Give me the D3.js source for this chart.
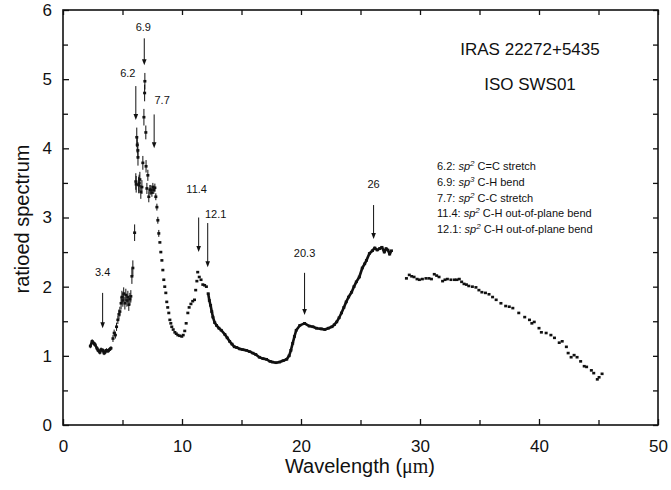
<!DOCTYPE html>
<html>
<head>
<meta charset="utf-8">
<script src="https://cdn.jsdelivr.net/npm/d3@7"></script>
<style>
  body { margin: 0; background: #fff; }
  svg { display: block; font-family: "Liberation Sans", Arial, sans-serif; }
  .axis text { font-size: 17px; fill: #111; }
  .axis path, .axis line { stroke: #111; stroke-width: 1.3; }
  .note { font-size: 11px; fill: #111; }
  .legend { font-size: 11px; fill: #111; }
</style>
</head>
<body>
<svg width="671" height="490"></svg>
<script>
// DATA (wavelength in micron, ratioed spectrum)
// 2.4 - 4.2 : noisy continuous band
const bandA = [
  [2.3, 1.14], [2.45, 1.21], [2.6, 1.18], [2.7, 1.16], [2.85, 1.11], [2.95, 1.08],
  [3.1, 1.05], [3.2, 1.09], [3.36, 1.08], [3.45, 1.04], [3.52, 1.05], [3.65, 1.08],
  [3.78, 1.07], [3.9, 1.09], [4.03, 1.11]
]
const errA = [0.03, 0.03, 0.03, 0.03, 0.03, 0.03, 0.03, 0.03, 0.03, 0.03, 0.03, 0.03, 0.03, 0.03, 0.03]

// 4.2 - 6.0 : points with error bars
const bandB = [
  [4.2, 1.25], [4.3, 1.33], [4.4, 1.3], [4.5, 1.42], [4.61, 1.52], [4.7, 1.6],
  [4.78, 1.64], [4.88, 1.76], [4.95, 1.85], [5.03, 1.8], [5.1, 1.9], [5.2, 1.76],
  [5.28, 1.88], [5.37, 1.8], [5.45, 1.85], [5.53, 1.74], [5.62, 1.82], [5.7, 1.86],
  [5.79, 2.15], [5.87, 2.27], [6.02, 2.78]
]
const errB = [0.05, 0.05, 0.05, 0.06, 0.06, 0.07, 0.07, 0.09, 0.09, 0.09, 0.09, 0.09,
  0.09, 0.09, 0.09, 0.09, 0.09, 0.09, 0.11, 0.11, 0.12]

// 6.1 - 8.1 : PAH peaks, large error bars
const bandC = [
  [6.12, 3.52], [6.15, 3.48], [6.2, 4.16], [6.24, 4.05], [6.29, 3.97], [6.3, 3.87],
  [6.36, 3.47], [6.4, 3.5], [6.46, 3.55], [6.54, 3.37], [6.63, 3.44], [6.71, 3.79],
  [6.8, 4.45], [6.86, 4.8], [6.88, 4.97], [6.96, 4.23], [6.98, 3.74], [7.05, 3.42],
  [7.13, 3.61], [7.21, 3.3], [7.3, 3.4], [7.38, 3.4], [7.47, 3.36], [7.55, 3.44],
  [7.63, 3.4], [7.72, 3.43], [7.8, 3.3], [7.89, 3.15], [7.97, 2.96], [8.05, 2.77]
]
const errC = [0.12, 0.12, 0.14, 0.12, 0.12, 0.12, 0.12, 0.12, 0.11, 0.1, 0.1, 0.1,
  0.12, 0.12, 0.12, 0.1, 0.09, 0.08, 0.08, 0.08, 0.07, 0.07, 0.06, 0.06,
  0.06, 0.06, 0.05, 0.05, 0.05, 0.05]

// 8.1 - 12.1 : dotted silicate / 11.3 region
const bandD = [
  [8.14, 2.64], [8.22, 2.5], [8.31, 2.38], [8.39, 2.24], [8.47, 2.1], [8.55, 2.0],
  [8.64, 1.91], [8.72, 1.78], [8.8, 1.7], [8.89, 1.62], [8.98, 1.52], [9.06, 1.47],
  [9.14, 1.42], [9.26, 1.38], [9.4, 1.34], [9.52, 1.32], [9.65, 1.3], [9.8, 1.29],
  [9.98, 1.28], [10.1, 1.3], [10.23, 1.36], [10.35, 1.47], [10.49, 1.62], [10.6, 1.7],
  [10.75, 1.75], [10.9, 1.79], [11.05, 1.81], [11.15, 1.95], [11.25, 2.08], [11.32, 2.21],
  [11.45, 2.14], [11.6, 2.1], [11.75, 2.03], [11.9, 2.02], [12.05, 2.0]
]

// 12.2 - 27.6 : dense continuous band
const bandE = [
  [12.2, 1.9], [12.3, 1.8], [12.4, 1.73], [12.5, 1.64], [12.6, 1.56], [12.75, 1.48],
  [12.9, 1.44], [13.1, 1.4], [13.3, 1.37], [13.6, 1.31], [13.8, 1.26], [14.0, 1.21],
  [14.2, 1.17], [14.4, 1.13], [14.6, 1.12], [14.85, 1.1], [15.1, 1.09], [15.4, 1.08],
  [15.7, 1.06], [15.95, 1.04], [16.2, 1.02], [16.5, 0.98], [16.8, 0.96], [17.1, 0.95],
  [17.4, 0.92], [17.6, 0.91], [17.9, 0.9], [18.2, 0.91], [18.5, 0.93], [18.8, 0.95],
  [19.0, 1.0], [19.15, 1.08], [19.3, 1.18], [19.45, 1.28], [19.6, 1.37], [19.9, 1.44],
  [20.3, 1.47], [20.7, 1.43], [21.0, 1.42], [21.3, 1.4], [21.7, 1.39], [22.0, 1.38],
  [22.3, 1.4], [22.6, 1.42], [22.8, 1.45], [23.0, 1.49], [23.2, 1.55], [23.4, 1.62],
  [23.6, 1.7], [23.8, 1.78], [24.0, 1.85], [24.25, 1.92], [24.45, 2.0], [24.65, 2.07],
  [24.9, 2.14], [25.15, 2.27], [25.35, 2.33], [25.5, 2.38], [25.75, 2.48], [26.0, 2.52],
  [26.2, 2.56], [26.4, 2.53], [26.6, 2.55], [26.8, 2.57], [27.0, 2.5], [27.15, 2.55],
  [27.3, 2.53], [27.45, 2.47], [27.6, 2.52]
]

// 28.8 - 45.3 : long wavelength dots
const bandF = [
  [28.86, 2.12], [29.1, 2.17], [29.3, 2.15], [29.5, 2.14], [29.75, 2.11], [29.95, 2.1],
  [30.2, 2.11], [30.5, 2.12], [30.75, 2.12], [30.96, 2.11], [31.2, 2.18], [31.4, 2.16],
  [31.6, 2.14], [31.9, 2.08], [32.1, 2.1], [32.3, 2.11], [32.6, 2.1], [32.9, 2.1],
  [33.1, 2.1], [33.3, 2.11], [33.5, 2.07], [33.7, 2.04], [33.9, 2.03], [34.1, 2.01],
  [34.4, 2.0], [34.7, 1.99], [34.95, 1.95], [35.2, 1.92], [35.5, 1.91], [35.8, 1.89],
  [36.1, 1.85], [36.4, 1.81], [36.8, 1.76], [37.2, 1.72], [37.5, 1.71], [37.8, 1.69],
  [38.3, 1.62], [38.8, 1.56], [39.2, 1.52], [39.4, 1.47], [39.6, 1.49], [40.0, 1.4],
  [40.2, 1.34], [40.6, 1.33], [41.0, 1.3], [41.3, 1.26], [41.7, 1.19], [41.95, 1.21],
  [42.3, 1.13], [42.45, 1.04], [42.7, 0.98], [42.95, 1.01], [43.2, 0.98], [43.5, 0.92],
  [43.8, 0.85], [44.0, 0.84], [44.4, 0.79], [44.6, 0.75], [44.9, 0.66], [45.05, 0.69],
  [45.3, 0.74]
]

// feature arrows: label, wavelength, arrow top, arrow tip, label baseline (data units)
const features = ["3.4", "6.2", "6.9", "7.7", "11.4", "12.1", "20.3", "26"]
const featureX = [3.33, 6.12, 6.83, 7.66, 11.4, 12.16, 20.3, 26.1]
const featureTop = [1.91, 4.9, 5.59, 4.49, 3.0, 2.92, 2.2, 3.18]
const featureTip = [1.4, 4.41, 5.2, 4.0, 2.5, 2.28, 1.59, 2.69]
const featureLabelY = [2.15, 5.03, 5.69, 4.64, 3.35, 3.0, 2.43, 3.42]
const featureDx = [0, -8, -1, 8, -2, 8, 0, 0]

const legendKeys = ["6.2:", "6.9:", "7.7:", "11.4:", "12.1:"]
const legendSup = ["2", "3", "2", "2", "2"]
const legendText = ["C=C stretch", "C-H bend", "C-C stretch", "C-H out-of-plane bend", "C-H out-of-plane bend"]

const xTicks = [0, 10, 20, 30, 40, 50]
const xMinor = [5, 15, 25, 35, 45]
const yTicks = [0, 1, 2, 3, 4, 5, 6]
const yMinor = [0.5, 1.5, 2.5, 3.5, 4.5, 5.5]

// SETUP
const svg = d3.select("svg")
const plotLeft = 63, plotRight = 658, plotTop = 10, plotBottom = 425

const x = d3.scaleLinear().domain([0, 50]).range([plotLeft, plotRight])
const y = d3.scaleLinear().domain([0, 6]).range([plotBottom, plotTop])

// axes, ticks inward on all four sides
svg.append("g").attr("class", "axis")
  .attr("transform", `translate(0, ${plotBottom})`)
  .call(d3.axisBottom(x).tickValues(xTicks).tickSizeInner(-6).tickSizeOuter(0).tickPadding(15).tickFormat(d3.format("d")))
svg.append("g").attr("class", "axis")
  .attr("transform", `translate(0, ${plotBottom})`)
  .call(d3.axisBottom(x).tickValues(xMinor).tickSizeInner(-5).tickSizeOuter(0).tickFormat(""))
svg.append("g").attr("class", "axis")
  .attr("transform", `translate(0, ${plotTop})`)
  .call(d3.axisTop(x).tickValues(xTicks.concat(xMinor)).tickSizeInner(-5).tickSizeOuter(0).tickFormat(""))

svg.append("g").attr("class", "axis")
  .attr("transform", `translate(${plotLeft}, 0)`)
  .call(d3.axisLeft(y).tickValues(yTicks).tickSizeInner(-6).tickSizeOuter(0).tickPadding(11).tickFormat(d3.format("d")))
svg.append("g").attr("class", "axis")
  .attr("transform", `translate(${plotLeft}, 0)`)
  .call(d3.axisLeft(y).tickValues(yMinor).tickSizeInner(-5).tickSizeOuter(0).tickFormat(""))
svg.append("g").attr("class", "axis")
  .attr("transform", `translate(${plotRight}, 0)`)
  .call(d3.axisRight(y).tickValues(yTicks.concat(yMinor)).tickSizeInner(-5).tickSizeOuter(0).tickFormat(""))

svg.selectAll(".axis path").remove()

svg.append("rect")
  .attr("x", plotLeft).attr("y", plotTop)
  .attr("width", plotRight - plotLeft).attr("height", plotBottom - plotTop)
  .attr("fill", "none").attr("stroke", "#111").attr("stroke-width", 1.6)

// axis titles
const xTitle = svg.append("text")
  .attr("x", 360).attr("y", 473)
  .attr("text-anchor", "middle")
  .style("font-size", "20px").attr("fill", "#111")
xTitle.append("tspan").text("Wavelength (")
xTitle.append("tspan").style("font-family", "'Liberation Serif', 'DejaVu Serif', serif").text("\u03bcm")
xTitle.append("tspan").text(")")

svg.append("text")
  .attr("transform", "translate(29, 219) rotate(-90)")
  .attr("text-anchor", "middle")
  .style("font-size", "20px").attr("fill", "#111")
  .text("ratioed spectrum")

// DATA MARKS
const line = d3.line().x(d => x(d[0])).y(d => y(d[1]))

// dense bands drawn as thick noisy traces
;[bandA, bandE].forEach(band => {
  svg.append("path")
    .datum(band)
    .attr("d", line)
    .attr("fill", "none")
    .attr("stroke", "#111")
    .attr("stroke-width", 2.6)
    .attr("stroke-linejoin", "round")
})

const pts = bandA.concat(bandB, bandC, bandD, bandE, bandF)
const errs = errA.concat(errB, errC)

// error bars
svg.append("g")
  .selectAll("line")
  .data(bandA.concat(bandB, bandC))
  .join("line")
  .attr("x1", d => x(d[0])).attr("x2", d => x(d[0]))
  .attr("y1", (d, i) => y(d[1] + errs[i]))
  .attr("y2", (d, i) => y(d[1] - errs[i]))
  .attr("stroke", "#111").attr("stroke-width", 1)

// points
svg.append("g")
  .selectAll("rect")
  .data(pts)
  .join("rect")
  .attr("x", d => x(d[0]) - 1.5)
  .attr("y", d => y(d[1]) - 1.3)
  .attr("width", 3)
  .attr("height", 2.6)
  .attr("fill", "#111")

// feature arrows
const arrows = svg.append("g")
features.forEach((f, i) => {
  const ax = x(featureX[i])
  const y0 = y(featureTop[i])
  const y1 = y(featureTip[i])
  arrows.append("line")
    .attr("x1", ax).attr("x2", ax)
    .attr("y1", y0).attr("y2", y1 - 5)
    .attr("stroke", "#111").attr("stroke-width", 1)
  arrows.append("path")
    .attr("d", `M${ax - 2.3},${y1 - 6} L${ax + 2.3},${y1 - 6} L${ax},${y1} Z`)
    .attr("fill", "#111")
  arrows.append("text")
    .attr("class", "note")
    .attr("x", ax + featureDx[i]).attr("y", y(featureLabelY[i]))
    .attr("text-anchor", "middle")
    .text(f)
})

// title
svg.append("text")
  .attr("x", 530).attr("y", 55)
  .attr("text-anchor", "middle")
  .style("font-size", "17px").attr("fill", "#111")
  .text("IRAS 22272+5435")
svg.append("text")
  .attr("x", 530).attr("y", 90)
  .attr("text-anchor", "middle")
  .style("font-size", "17px").attr("fill", "#111")
  .text("ISO SWS01")

// legend
const legend = svg.append("g").attr("transform", "translate(437, 170)")
legendKeys.forEach((k, i) => {
  const t = legend.append("text")
    .attr("class", "legend")
    .attr("y", i * 15.8)
  t.append("tspan").text(k + " ")
  t.append("tspan").style("font-style", "italic").text("sp")
  t.append("tspan").attr("dy", -4).style("font-size", "8px").style("font-style", "italic").text(legendSup[i])
  t.append("tspan").attr("dy", 4).text(" " + legendText[i])
})
</script>
</body>
</html>
